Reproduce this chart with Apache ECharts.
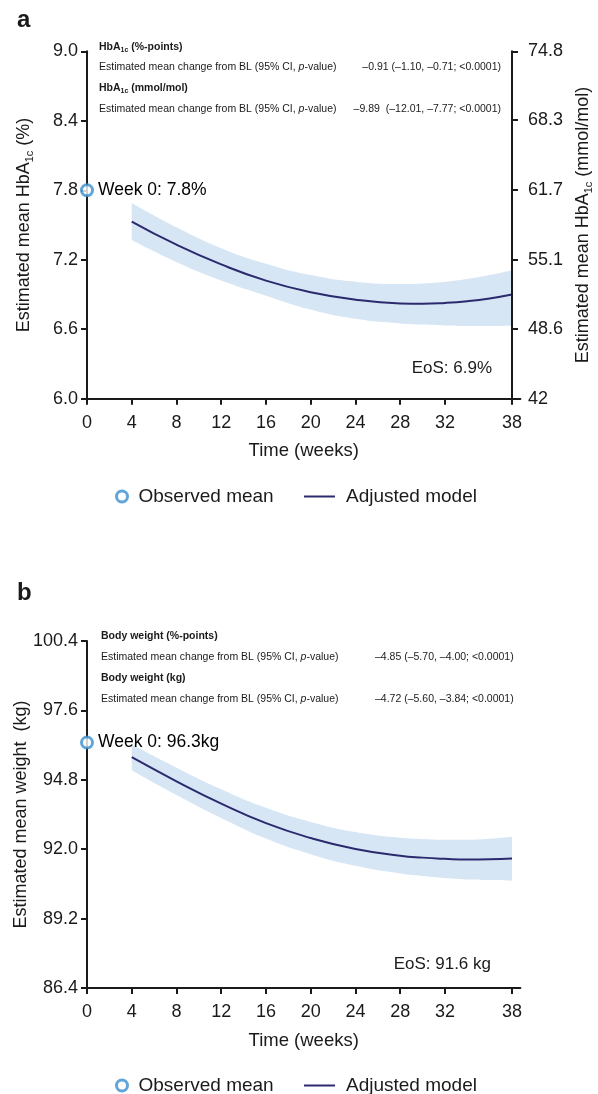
<!DOCTYPE html>
<html><head><meta charset="utf-8">
<script src="https://cdn.jsdelivr.net/npm/echarts@6/dist/echarts.min.js"></script>
<style>html,body{margin:0;padding:0;background:#fff}#c{width:598px;height:1094px}</style>
</head><body><div id="c"></div>
<script>
// ---------- data ----------
const weeks = [4, 8, 12, 16, 20, 24, 28, 30, 32, 34, 36, 38];
const xTicks = [0, 4, 8, 12, 16, 20, 24, 28, 32, 38];

const hbaModel = [7.53, 7.33, 7.16, 7.02, 6.92, 6.855, 6.823, 6.82, 6.827, 6.842, 6.866, 6.90];
const hbaUpper = [7.69, 7.48, 7.30, 7.166, 7.068, 7.01, 6.99, 6.995, 7.01, 7.034, 7.068, 7.11];
const hbaLower = [7.37, 7.18, 7.02, 6.89, 6.77, 6.69, 6.65, 6.64, 6.632, 6.628, 6.628, 6.63];
const hbaObserved = [[0, 7.8]];
const hbaEoS = '6.9';
const hbaTicks = [6.0, 6.6, 7.2, 7.8, 8.4, 9.0];
const mmolTicks = [42, 48.6, 55.1, 61.7, 68.3, 74.8];

const wtModel = [95.71, 94.74, 93.84, 93.05, 92.45, 92.01, 91.74, 91.66, 91.61, 91.58, 91.59, 91.62];
const wtUpper = [96.23, 95.29, 94.42, 93.67, 93.10, 92.69, 92.46, 92.41, 92.38, 92.38, 92.42, 92.50];
const wtLower = [95.19, 94.19, 93.26, 92.43, 91.80, 91.33, 91.02, 90.92, 90.84, 90.78, 90.76, 90.74];
const wtObserved = [[0, 96.3]];
const wtEoS = '91.6';
const wtTicks = [86.4, 89.2, 92.0, 94.8, 97.6, 100.4];

const hbaHeader1 = 'HbA|1c| (%-points)';
const hbaHeader2 = 'HbA|1c| (mmol/mol)';
const hbaValue1 = '–0.91 (–1.10, –0.71; <0.0001)';
const hbaValue2 = '–9.89  (–12.01, –7.77; <0.0001)';
const wtHeader1 = 'Body weight (%-points)';
const wtHeader2 = 'Body weight (kg)';
const wtValue1 = '–4.85 (–5.70, –4.00; <0.0001)';
const wtValue2 = '–4.72 (–5.60, –3.84; <0.0001)';

// ---------- styles ----------
const FF = "'Liberation Sans', Arial, Helvetica, sans-serif";
const INK = '#1a1a1a';
const BAND = '#d6e6f4';
const NAVY = '#2c2a6e';
const BLUE = '#3b8fd0';

function pairs(xs, ys) { return xs.map((x, i) => [x, ys[i]]); }
// value first, week second (encode maps them) so that stacking happens on the y value
function yxPairs(xs, ys) { return xs.map((x, i) => [ys[i], x]); }
function diff(a, b) { return a.map((v, i) => +(v - b[i]).toFixed(4)); }

function mkX(gi) {
  return {
    gridIndex: gi, type: 'value', min: 0, max: 38.75, z: 10,
    name: 'Time (weeks)', nameLocation: 'middle', nameGap: 43, nameMoveOverlap: false,
    nameTextStyle: { fontSize: 18.5, color: INK, fontFamily: FF },
    axisLine: { show: true, lineStyle: { color: INK, width: 2 } },
    axisTick: { show: true, length: 6, lineStyle: { color: INK, width: 2 }, customValues: xTicks },
    axisLabel: { fontSize: 18, color: INK, margin: 15, fontFamily: FF, customValues: xTicks },
    splitLine: { show: false }
  };
}
function mkY(gi, min, max, ticks, pos, name, rich, fmt, gap, margin, offset) {
  return {
    gridIndex: gi, type: 'value', min: min, max: max, position: pos, offset: offset || 0, z: 10,
    name: name, nameLocation: 'middle', nameRotate: 90, nameGap: gap, nameMoveOverlap: false,
    nameTextStyle: { fontSize: 18, color: INK, fontFamily: FF, rich: rich },
    axisLine: { show: true, onZero: false, lineStyle: { color: INK, width: 2 } },
    axisTick: { show: true, length: 6, lineStyle: { color: INK, width: 2 }, customValues: ticks },
    axisLabel: { fontSize: 18, color: INK, margin: margin, fontFamily: FF, customValues: ticks, formatter: fmt },
    splitLine: { show: false }
  };
}
const subRich = {
  n: { fontSize: 18, color: INK, fontFamily: FF, lineHeight: 22 },
  s: { fontSize: 11, color: INK, fontFamily: FF, verticalAlign: 'bottom', lineHeight: 13 }
};

function panelSeries(gi, yi, model, upper, lower, obs, unitFmt) {
  return [
    { type: 'line', xAxisIndex: gi, yAxisIndex: yi, stack: 'ci' + gi, smooth: true, symbol: 'none', silent: true,
      encode: { x: 1, y: 0 }, data: yxPairs(weeks, lower), lineStyle: { opacity: 0 }, z: 1 },
    { type: 'line', xAxisIndex: gi, yAxisIndex: yi, stack: 'ci' + gi, smooth: true, symbol: 'none', silent: true,
      encode: { x: 1, y: 0 }, data: yxPairs(weeks, diff(upper, lower)), lineStyle: { opacity: 0 },
      areaStyle: { color: BAND, opacity: 1 }, z: 1 },
    { type: 'line', name: 'Adjusted model', xAxisIndex: gi, yAxisIndex: yi, smooth: true, symbol: 'none',
      data: pairs(weeks, model), color: NAVY, lineStyle: { color: NAVY, width: 2 }, z: 3 },
    { type: 'scatter', name: 'Observed mean', xAxisIndex: gi, yAxisIndex: yi, clip: false, symbol: 'circle', symbolSize: 11,
      data: obs, itemStyle: { color: '#fff', borderColor: BLUE, borderWidth: 3 }, z: 20,
      label: { show: true, position: 'right', distance: 4, fontSize: 17.5, color: '#000', opacity: 1,
        textBorderWidth: 0, textBorderColor: 'transparent', textShadowBlur: 0, fontFamily: FF,
        formatter: p => 'Week 0: ' + unitFmt(p.value[1]) } }
  ];
}

function headerRich(str, x, y) {
  const parts = str.split('|');
  let text = '{b|' + parts[0] + '}';
  if (parts.length > 1) text += '{s|' + parts[1] + '}{b|' + parts[2] + '}';
  return { type: 'text', x: x, y: y, z: 100, style: {
    text: text, verticalAlign: 'middle', fill: INK,
    rich: {
      b: { fontSize: 10.5, fontWeight: 'bold', fontFamily: FF, fill: INK, lineHeight: 13 },
      s: { fontSize: 7, fontWeight: 'bold', fontFamily: FF, fill: INK, verticalAlign: 'bottom', lineHeight: 9 }
    } } };
}
function estLine(x, y) {
  return { type: 'text', x: x, y: y, z: 100, style: {
    text: '{r|Estimated mean change from BL (95% CI, }{i|p}{r|-value)}', verticalAlign: 'middle',
    rich: {
      r: { fontSize: 10.5, fontFamily: FF, fill: INK },
      i: { fontSize: 10.5, fontFamily: FF, fontStyle: 'italic', fill: INK }
    } } };
}
function plain(x, y, text, size, align, weight) {
  return { type: 'text', x: x, y: y, z: 100, style: { text: text, fontSize: size, fontFamily: FF, fontWeight: weight || 'normal',
    fill: INK, align: align || 'left', verticalAlign: 'middle' } };
}

const chart = echarts.init(document.getElementById('c'), null, { renderer: 'canvas' });
const legendText = { fontSize: 19, color: INK, fontFamily: FF, padding: [0, 0, 0, 6] };
const obsLegendItem = { name: 'Observed mean', icon: 'circle', itemStyle: { color: '#fff', borderColor: BLUE, borderWidth: 3 } };
const lineLegendItem = { name: 'Adjusted model', icon: 'rect', itemStyle: { color: NAVY } };

chart.setOption({
  animation: false,
  textStyle: { fontFamily: FF },
  grid: [
    { left: 87, top: 51.3, width: 433.4, height: 347.4, outerBoundsMode: 'none', containLabel: false },
    { left: 87, top: 641, width: 433.4, height: 347, outerBoundsMode: 'none', containLabel: false }
  ],
  xAxis: [mkX(0), mkX(1)],
  yAxis: [
    mkY(0, 6.0, 9.0, hbaTicks, 'left', '{n|Estimated mean HbA}{s|1c}{n| (%)}', subRich, v => v.toFixed(1), 52, 9),
    mkY(0, 42, 74.8, mmolTicks, 'right', '{n|Estimated mean HbA}{s|1c}{n| (mmol/mol)}', subRich, v => String(v), 60, 16, -8.4),
    mkY(1, 86.4, 100.4, wtTicks, 'left', 'Estimated mean weight  (kg)', null, v => v.toFixed(1), 57, 9)
  ],
  legend: [
    { data: [obsLegendItem], left: 115, top: 487, itemWidth: 11, itemHeight: 11, selectedMode: false, padding: 0, textStyle: legendText },
    { data: [lineLegendItem], left: 304, top: 487, itemWidth: 31, itemHeight: 2, selectedMode: false, padding: 0, textStyle: legendText },
    { data: [obsLegendItem], left: 115, top: 1076, itemWidth: 11, itemHeight: 11, selectedMode: false, padding: 0, textStyle: legendText },
    { data: [lineLegendItem], left: 304, top: 1076, itemWidth: 31, itemHeight: 2, selectedMode: false, padding: 0, textStyle: legendText }
  ],
  graphic: [
    plain(17, 20, 'a', 24, 'left', 'bold'),
    plain(17, 593, 'b', 24, 'left', 'bold'),
    headerRich(hbaHeader1, 99, 46.7),
    estLine(99, 67),
    plain(501, 67, hbaValue1, 10.5, 'right'),
    headerRich(hbaHeader2, 99, 88.5),
    estLine(99, 109),
    plain(501, 109, hbaValue2, 10.5, 'right'),
    plain(492, 368, 'EoS: ' + hbaEoS + '%', 17, 'right'),
    headerRich(wtHeader1, 101, 636),
    estLine(101, 657),
    plain(375, 657, wtValue1, 10.5),
    headerRich(wtHeader2, 101, 678),
    estLine(101, 699),
    plain(375, 699, wtValue2, 10.5),
    plain(491, 964, 'EoS: ' + wtEoS + ' kg', 17, 'right')
  ],
  series: [
    ...panelSeries(0, 0, hbaModel, hbaUpper, hbaLower, hbaObserved, v => v.toFixed(1) + '%'),
    ...panelSeries(1, 2, wtModel, wtUpper, wtLower, wtObserved, v => v.toFixed(1) + 'kg')
  ]
});
</script></body></html>
